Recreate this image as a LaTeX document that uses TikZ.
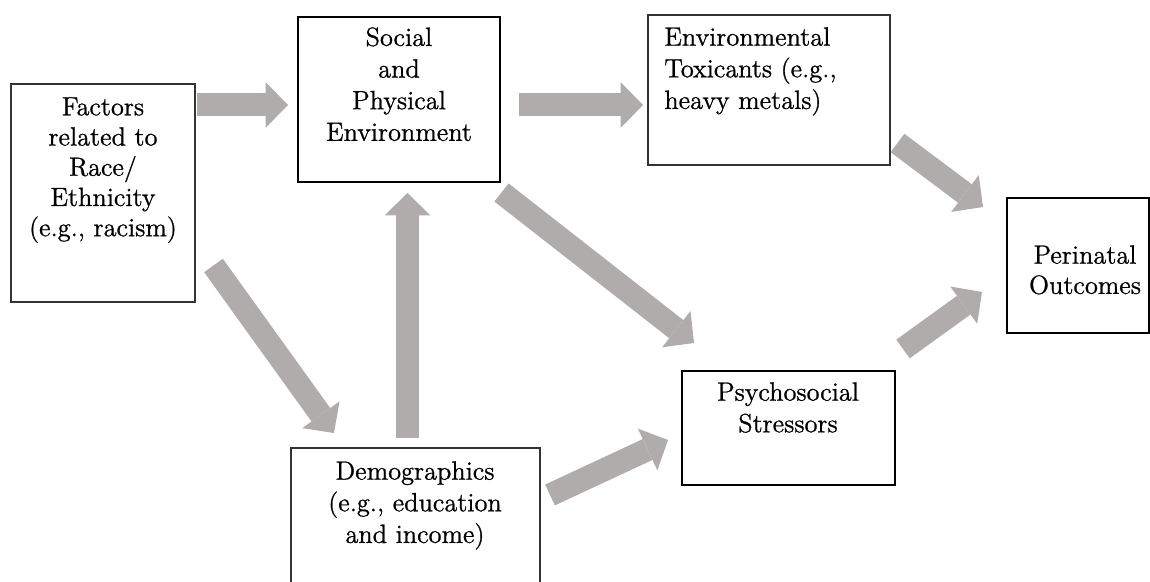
\documentclass[tikz,border=0pt]{standalone}
\usetikzlibrary{arrows.meta}
\definecolor{arrowgray}{HTML}{AFACAB}
\definecolor{thinline}{HTML}{333333}
\font\lmdiag="[lmroman12-regular]:mapping=tex-text;embolden=0.9" at 15pt
\newcommand\diagfont{\fontsize{15}{18}\selectfont\lmdiag}
\begin{document}
\begin{tikzpicture}[
  boxthick/.style={draw=black, line width=1.5pt, inner sep=0pt},
  boxthin/.style={draw=thinline, line width=0.7pt, inner sep=0pt},
  lbl/.style={inner sep=0pt, align=center, font=\diagfont},
  lblleft/.style={inner sep=0pt, align=left, font=\diagfont},
  bigarrow/.style={draw=arrowgray, line width=0.46cm,
    -{Triangle[length=0.45cm, width=0.92cm, line width=0pt]}}
]
\clip (0,0) rectangle (23,-11.64);
\useasboundingbox (0,0) rectangle (23,-11.64);

% boxes
\node[boxthin, minimum width=3.68cm, minimum height=4.36cm] (fac) at (2.06,-3.86) {};
\node[boxthick, minimum width=4.04cm, minimum height=3.30cm] (soc) at (7.98,-1.99) {};
\node[boxthin, minimum width=4.84cm, minimum height=3.00cm] (env) at (15.38,-1.80) {};
\node[boxthick, minimum width=2.84cm, minimum height=2.70cm] (per) at (21.56,-5.31) {};
\node[boxthick, minimum width=4.26cm, minimum height=2.28cm] (psy) at (15.77,-8.56) {};
\node[boxthin, minimum width=4.98cm, minimum height=3.24cm] (dem) at (8.31,-10.58) {};

% texts
\node[lbl, anchor=north, font={\fontsize{15}{17.2}\selectfont\lmdiag}] (factxt) at (2.06,-1.94) {Factors\\related to\\Race/\\Ethnicity\\(e.g., racism)};
\node[lbl, anchor=north] (soctxt) at (7.98,-0.54) {Social\\and\\Physical\\Environment};
\node[lblleft, anchor=north west] (envtxt) at (13.28,-0.54) {Environmental\\Toxicants (e.g.,\\heavy metals)};
\node[lbl, anchor=north, font={\fontsize{15}{17.2}\selectfont\lmdiag}] (pertxt) at (21.70,-4.90) {Perinatal\\Outcomes};
\node[lbl, anchor=north] (psytxt) at (15.76,-7.64) {Psychosocial\\Stressors};
\node[lbl, anchor=north] (demtxt) at (8.30,-9.22) {Demographics\\(e.g., education\\and income)};

% arrow end points
\coordinate (a1s) at (3.94,-2.10);  \coordinate (a1e) at (5.76,-2.10);
\coordinate (a2s) at (10.38,-2.10); \coordinate (a2e) at (12.86,-2.10);
\coordinate (a3s) at (8.15,-8.76);  \coordinate (a3e) at (8.15,-3.86);
\coordinate (a4s) at (4.27,-5.31);  \coordinate (a4e) at (6.68,-8.66);
\coordinate (a5s) at (10.03,-3.85); \coordinate (a5e) at (13.88,-6.86);
\coordinate (a6s) at (11.00,-9.90); \coordinate (a6e) at (13.36,-8.80);
\coordinate (a7s) at (17.95,-2.86); \coordinate (a7e) at (19.66,-4.14);
\coordinate (a8s) at (18.06,-6.98); \coordinate (a8e) at (19.64,-5.84);

\draw[bigarrow] (a1s) -- (a1e);
\draw[bigarrow] (a2s) -- (a2e);
\draw[bigarrow] (a3s) -- (a3e);
\draw[bigarrow] (a4s) -- (a4e);
\draw[bigarrow] (a5s) -- (a5e);
\draw[bigarrow] (a6s) -- (a6e);
\draw[bigarrow] (a7s) -- (a7e);
\draw[bigarrow] (a8s) -- (a8e);
\end{tikzpicture}
\end{document}
